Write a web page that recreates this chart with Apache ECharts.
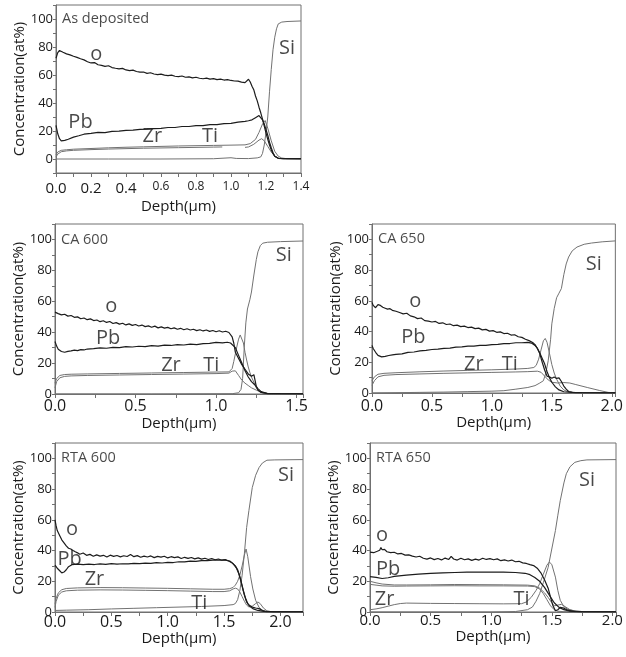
<!DOCTYPE html>
<html>
<head>
<meta charset="utf-8">
<script src="https://cdn.jsdelivr.net/npm/echarts@6/dist/echarts.min.js"></script>
<style>
html,body{margin:0;padding:0;background:#fff}
#chart{width:626px;height:657px}
</style>
</head>
<body>
<div id="chart"></div>
<script>
// Depth profiles: concentration (at%) versus sputter depth (µm)

// ---- As deposited ----
const dep_O = [[0,72],[0.01,76],[0.02,77.5],[0.04,76.2],[0.06,75.1],[0.08,74.4],[0.1,73.4],[0.12,72.6],[0.14,71.6],[0.16,70.8],[0.18,69.5],[0.2,68.6],[0.22,68.9],[0.24,67.3],[0.26,66.9],[0.28,66.2],[0.3,66.6],[0.32,65.3],[0.34,64.8],[0.36,64.4],[0.38,64.7],[0.4,63.6],[0.42,63.1],[0.44,63.5],[0.46,62.5],[0.48,62.0],[0.5,62.1],[0.52,61.2],[0.54,61.6],[0.56,60.7],[0.58,60.3],[0.6,60.6],[0.62,59.9],[0.64,59.6],[0.66,59.9],[0.68,59.1],[0.7,58.8],[0.72,59.3],[0.74,58.4],[0.76,58.7],[0.78,58.0],[0.8,58.4],[0.82,57.7],[0.84,57.3],[0.86,57.8],[0.88,57.1],[0.9,57.4],[0.92,56.7],[0.94,57.1],[0.96,56.4],[0.98,56.7],[1.0,56.1],[1.02,55.7],[1.04,55.6],[1.06,54.9],[1.08,54.6],[1.09,54.1],[1.1,57],[1.11,55],[1.12,52],[1.13,49.5],[1.14,45],[1.15,41.5],[1.16,37],[1.17,33],[1.18,28.5],[1.19,23.5],[1.2,18.5],[1.21,14],[1.22,10],[1.23,6.5],[1.24,4],[1.25,2],[1.26,1],[1.27,0.5],[1.3,0.3],[1.4,0.2]];
const dep_Pb = [[0,24],[0.01,18],[0.02,14.5],[0.03,13],[0.05,13.3],[0.07,14.1],[0.1,15.6],[0.13,16.6],[0.16,17.7],[0.2,18.3],[0.24,19.0],[0.28,18.9],[0.32,19.7],[0.36,19.9],[0.4,20.5],[0.44,20.6],[0.48,21.2],[0.52,21.3],[0.56,21.7],[0.6,21.9],[0.64,22.5],[0.68,22.5],[0.72,23.2],[0.76,23.2],[0.8,23.8],[0.84,23.9],[0.88,24.5],[0.92,24.6],[0.96,25.3],[1.0,25.5],[1.04,26.4],[1.08,26.9],[1.1,27.3],[1.12,28],[1.14,29.5],[1.16,31],[1.17,30.5],[1.18,28],[1.19,25],[1.2,21],[1.21,17],[1.22,12],[1.23,8],[1.24,4.5],[1.25,2],[1.27,0.5],[1.4,0.2]];
const dep_Zr = [[0,3],[0.01,5],[0.03,6.2],[0.06,6.6],[0.1,7.0],[0.2,7.5],[0.3,8.0],[0.4,8.4],[0.5,8.7],[0.6,9.0],[0.7,9.3],[0.8,9.5],[0.9,9.7],[1.0,9.9],[1.08,10.1],[1.11,11],[1.14,14],[1.16,19],[1.18,25],[1.195,27.5],[1.21,22],[1.23,13],[1.25,5.5],[1.27,2],[1.29,0.7],[1.32,0.2],[1.4,0.1]];
const dep_Ti = [[0,1.5],[0.01,3.5],[0.03,5.2],[0.06,5.8],[0.1,6.2],[0.2,6.7],[0.3,7.1],[0.4,7.4],[0.5,7.7],[0.6,7.9],[0.7,8.1],[0.8,8.3],[0.9,8.5],[0.95,8.6],[0.96,'-'],[1.08,8.3],[1.1,8.6],[1.13,10.5],[1.16,13.5],[1.175,14.5],[1.19,13],[1.21,9],[1.23,5],[1.25,2],[1.27,0.6],[1.3,0.1],[1.4,0]];
const dep_Si = [[0,0],[0.3,0],[0.6,0],[0.9,0.2],[1.0,0.9],[1.03,0.4],[1.1,0.3],[1.15,0.8],[1.17,1.5],[1.18,4],[1.19,10],[1.2,19],[1.21,30],[1.22,48],[1.23,64],[1.24,78],[1.25,87],[1.26,93],[1.27,96.5],[1.29,97.8],[1.32,98.2],[1.36,98.4],[1.4,98.6]];

// ---- CA 600 ----
const ca600_O = [[0,53],[0.02,52],[0.04,51.2],[0.06,51.6],[0.08,50.4],[0.1,50.8],[0.12,49.6],[0.14,49.9],[0.16,48.7],[0.18,49.2],[0.2,48.1],[0.22,48.6],[0.24,47.5],[0.26,47.9],[0.28,46.8],[0.3,47.4],[0.32,46.3],[0.34,46.9],[0.36,45.6],[0.38,46.2],[0.4,45.2],[0.42,45.8],[0.44,44.7],[0.46,45.4],[0.48,44.4],[0.5,45.0],[0.52,44.0],[0.54,44.6],[0.56,43.6],[0.58,44.1],[0.6,43.2],[0.62,43.9],[0.64,42.8],[0.66,43.4],[0.68,42.6],[0.7,43.1],[0.72,42.2],[0.74,42.8],[0.76,41.9],[0.78,42.5],[0.8,41.6],[0.82,42.2],[0.84,41.4],[0.86,41.9],[0.88,41.0],[0.9,41.6],[0.92,40.8],[0.94,41.4],[0.96,40.5],[0.98,41.1],[1.0,40.3],[1.02,40.9],[1.04,40.1],[1.06,40.6],[1.08,39.8],[1.09,39.5],[1.1,37],[1.11,33],[1.12,27],[1.14,23],[1.16,19],[1.18,16],[1.2,13],[1.22,11.5],[1.235,12.5],[1.25,5],[1.26,2.5],[1.28,1],[1.32,0.3],[1.4,0.2],[1.54,0.1]];
const ca600_Pb = [[0,34],[0.01,31],[0.02,29],[0.04,27.5],[0.06,27],[0.08,27.6],[0.1,27.9],[0.12,28.4],[0.14,28.1],[0.16,28.7],[0.18,28.5],[0.2,29.1],[0.24,29.3],[0.28,29.8],[0.32,29.6],[0.36,30.2],[0.4,30.0],[0.44,30.6],[0.48,30.4],[0.52,30.9],[0.56,30.7],[0.6,31.3],[0.64,31.0],[0.68,31.6],[0.72,31.4],[0.76,31.9],[0.8,31.7],[0.84,32.3],[0.88,32.0],[0.92,32.6],[0.96,32.8],[1.0,33.4],[1.04,33.1],[1.07,33.5],[1.09,33],[1.1,32.5],[1.12,30],[1.14,25],[1.16,20],[1.18,15],[1.2,11],[1.22,8],[1.24,6],[1.26,3.5],[1.28,1.5],[1.32,0.3],[1.54,0.1]];
const ca600_Zr = [[0,7],[0.01,10],[0.03,12],[0.06,12.6],[0.1,12.8],[0.2,13.0],[0.4,13.3],[0.6,13.6],[0.8,13.9],[1.0,14.2],[1.08,14.3],[1.09,14.6],[1.1,16.5],[1.11,21],[1.12,26],[1.13,31],[1.14,35.5],[1.15,38.2],[1.16,38.5],[1.17,33],[1.18,27],[1.19,22],[1.2,17.5],[1.21,14],[1.22,11],[1.24,6.5],[1.25,3.8],[1.27,1.5],[1.3,0.4],[1.4,0.1],[1.54,0.1]];
const ca600_Ti = [[0,4],[0.01,8],[0.03,10.5],[0.06,11.4],[0.1,11.7],[0.2,12.0],[0.4,12.3],[0.6,12.6],[0.8,12.9],[1.0,13.2],[1.08,13.5],[1.1,14.8],[1.12,15],[1.14,12],[1.16,9],[1.18,7],[1.2,5.5],[1.22,4],[1.25,2.5],[1.28,1.2],[1.32,0.3],[1.54,0.1]];
const ca600_Si = [[0,0],[0.6,0],[1.1,0.2],[1.14,0.8],[1.155,3],[1.165,10],[1.175,30],[1.185,46],[1.195,55],[1.21,61],[1.22,66],[1.235,77],[1.25,87],[1.26,92],[1.275,96],[1.29,97.6],[1.32,98.2],[1.4,98.6],[1.54,99]];

// ---- CA 650 ----
const ca650_O = [[0,59],[0.01,57],[0.03,55.5],[0.05,57.5],[0.07,57],[0.09,55.8],[0.11,55.2],[0.13,54.6],[0.15,54.9],[0.17,53.8],[0.2,53.2],[0.23,52.4],[0.26,51.5],[0.29,51.9],[0.32,50.2],[0.35,49.6],[0.38,48.4],[0.41,48.8],[0.44,47.1],[0.47,46.8],[0.5,46.2],[0.53,46.6],[0.56,45.3],[0.59,45.7],[0.62,44.6],[0.65,44.9],[0.68,43.8],[0.71,44.2],[0.74,43.2],[0.77,43.5],[0.8,42.6],[0.83,42.9],[0.86,41.9],[0.89,42.2],[0.92,41.1],[0.95,41.4],[0.98,40.3],[1.01,40.6],[1.04,39.5],[1.07,39.8],[1.1,38.7],[1.13,38.9],[1.16,37.7],[1.19,37.9],[1.22,36.6],[1.25,36.2],[1.28,35.0],[1.31,34.1],[1.34,32.9],[1.36,31.5],[1.38,29],[1.4,25.5],[1.42,20],[1.44,15],[1.46,11],[1.48,10.5],[1.5,9.6],[1.52,10.4],[1.54,9.5],[1.56,9.8],[1.58,7.5],[1.6,4.5],[1.62,2.5],[1.64,1],[1.67,0.4],[1.75,0.2],[2.03,0.1]];
const ca650_Pb = [[0,31],[0.01,29],[0.03,26.5],[0.05,24.5],[0.08,23.5],[0.11,23.8],[0.14,24.4],[0.17,24.8],[0.2,25.2],[0.25,25.5],[0.3,26.4],[0.35,26.7],[0.4,27.4],[0.45,27.8],[0.5,28.3],[0.55,28.5],[0.6,29.1],[0.65,29.2],[0.7,29.9],[0.75,30.0],[0.8,30.5],[0.85,30.5],[0.9,31.0],[0.95,31.0],[1.0,31.5],[1.05,31.6],[1.1,32.1],[1.15,32.2],[1.2,32.7],[1.25,32.7],[1.3,32.9],[1.33,32.5],[1.36,31],[1.38,29],[1.4,26],[1.42,22.5],[1.44,19],[1.46,14],[1.48,10],[1.5,7],[1.53,4],[1.56,2],[1.6,0.8],[1.7,0.2],[2.03,0.1]];
const ca650_Zr = [[0,8],[0.02,10.5],[0.05,12.2],[0.1,12.8],[0.2,13.2],[0.4,13.8],[0.6,14.3],[0.8,14.7],[1.0,15.1],[1.2,15.6],[1.3,16.0],[1.35,16.6],[1.37,18],[1.39,22],[1.41,28],[1.43,34],[1.445,35.5],[1.46,33],[1.48,26],[1.5,18.5],[1.52,13],[1.54,9],[1.57,4.5],[1.6,2],[1.64,0.6],[1.7,0.2],[2.03,0.1]];
const ca650_Ti = [[0,5],[0.02,8],[0.05,10.5],[0.1,11.5],[0.2,12],[0.4,12.4],[0.6,12.8],[0.8,13.1],[1.0,13.4],[1.2,13.7],[1.3,13.9],[1.38,14.2],[1.41,13.5],[1.44,11],[1.47,8.5],[1.5,7],[1.55,6.5],[1.6,6.8],[1.65,6.5],[1.7,5.5],[1.8,3.5],[1.9,1.6],[1.97,0.4],[2.03,0.1]];
const ca650_Si = [[0,0],[0.2,0.2],[0.4,0.4],[0.6,0.6],[0.8,0.9],[1.0,1.2],[1.1,1.5],[1.2,2.5],[1.3,3.6],[1.36,4.8],[1.4,6.5],[1.43,8],[1.45,13],[1.47,21],[1.49,35],[1.5,45],[1.52,55],[1.54,62],[1.56,65],[1.58,68],[1.6,77],[1.62,84],[1.64,88.5],[1.67,92.5],[1.71,95],[1.77,96.8],[1.83,97.6],[1.92,98.4],[2.03,99]];

// ---- RTA 600 ----
const rta600_O = [[0,60],[0.01,56],[0.02,53],[0.04,50],[0.06,47],[0.08,45],[0.1,43],[0.12,41.5],[0.14,41],[0.16,40],[0.18,39.2],[0.2,38.5],[0.22,37.6],[0.25,38.4],[0.28,36.9],[0.31,37.5],[0.34,36.3],[0.37,37.2],[0.4,36.4],[0.43,36.9],[0.46,35.8],[0.49,37.0],[0.52,36.2],[0.55,36.8],[0.58,35.9],[0.61,36.6],[0.64,36.1],[0.67,37.4],[0.7,36.0],[0.73,36.7],[0.76,35.6],[0.79,36.4],[0.82,35.8],[0.85,36.5],[0.88,35.4],[0.91,36.2],[0.94,35.7],[0.97,36.3],[1.0,35.2],[1.03,36.0],[1.06,35.4],[1.09,35.9],[1.12,34.8],[1.15,35.6],[1.18,34.9],[1.21,35.5],[1.24,34.6],[1.27,35.2],[1.3,34.4],[1.33,35.0],[1.36,34.2],[1.39,34.8],[1.42,34.0],[1.45,34.5],[1.48,33.7],[1.51,34.1],[1.54,33.2],[1.57,32],[1.6,30],[1.62,27.5],[1.64,23],[1.66,17],[1.68,11],[1.7,6.5],[1.72,4.5],[1.75,3.2],[1.78,2.6],[1.81,2.2],[1.84,1],[1.87,0.3],[1.95,0.1],[2.2,0.1]];
const rta600_Pb = [[0,30.5],[0.02,28.5],[0.04,27],[0.06,25.5],[0.08,26],[0.1,27.5],[0.12,29.5],[0.15,30.8],[0.2,31.2],[0.25,30.8],[0.3,31.1],[0.35,30.9],[0.4,31.3],[0.45,31.0],[0.5,31.5],[0.55,31.2],[0.6,31.4],[0.65,31.3],[0.7,31.7],[0.75,31.5],[0.8,31.8],[0.85,31.7],[0.9,32.1],[0.95,31.9],[1.0,32.3],[1.05,32.2],[1.1,32.7],[1.15,32.6],[1.2,33.1],[1.25,33.0],[1.3,33.5],[1.35,33.4],[1.4,33.8],[1.45,33.7],[1.5,33.9],[1.55,33.2],[1.58,31.5],[1.61,28.5],[1.63,25],[1.65,20],[1.67,14],[1.69,9],[1.71,5.5],[1.73,3.5],[1.76,2],[1.8,1],[1.85,0.4],[1.95,0.1],[2.2,0.1]];
const rta600_Zr = [[0,5],[0.01,9],[0.03,12.5],[0.06,14.5],[0.1,15.3],[0.2,15.7],[0.4,15.9],[0.6,15.8],[0.8,15.6],[1.0,15.4],[1.2,15.1],[1.4,14.8],[1.5,14.8],[1.55,15.2],[1.58,16],[1.6,17.5],[1.62,20],[1.64,24],[1.66,30],[1.68,37],[1.695,41],[1.71,36],[1.735,23],[1.755,15],[1.78,7.6],[1.81,3],[1.84,1.2],[1.88,0.3],[2.0,0.1],[2.2,0.1]];
const rta600_Ti = [[0,3],[0.01,7],[0.03,11],[0.06,13],[0.1,13.8],[0.2,14.2],[0.4,14.4],[0.6,14.3],[0.8,14.1],[1.0,13.9],[1.2,13.6],[1.4,13.3],[1.5,13.3],[1.55,13.8],[1.58,15],[1.6,15.5],[1.62,15],[1.64,13],[1.66,10],[1.68,7],[1.7,4.5],[1.72,3.3],[1.75,3.8],[1.78,5.5],[1.8,6.5],[1.82,5.5],[1.85,2.5],[1.88,0.8],[1.92,0.2],[2.2,0.1]];
const rta600_Si = [[0,1],[0.1,1.2],[0.3,1.5],[0.5,2],[0.7,2.4],[0.9,2.8],[1.1,3.2],[1.3,3.6],[1.5,4.2],[1.58,4.8],[1.6,5.5],[1.62,8],[1.64,14],[1.66,24],[1.68,38],[1.7,55],[1.72,66],[1.75,81],[1.78,89],[1.81,94],[1.84,97],[1.88,98.8],[1.95,99],[2.2,99.2]];

// ---- RTA 650 ----
const rta650_O = [[0,39],[0.03,38.6],[0.06,39.5],[0.08,40.2],[0.09,42],[0.1,40.5],[0.12,40.8],[0.14,39.2],[0.17,38.6],[0.2,38.9],[0.23,37.8],[0.26,38.1],[0.29,37.0],[0.32,37.2],[0.35,36.4],[0.38,35.8],[0.41,36.3],[0.44,35.0],[0.47,34.4],[0.5,35.2],[0.53,34.1],[0.56,34.8],[0.59,33.9],[0.62,35.1],[0.65,34.2],[0.67,36.2],[0.69,34.5],[0.72,33.8],[0.75,35.0],[0.78,34.0],[0.81,34.6],[0.84,33.6],[0.87,34.4],[0.9,33.8],[0.93,35.0],[0.96,34.2],[0.99,34.7],[1.02,34.0],[1.05,34.6],[1.08,33.4],[1.11,33.9],[1.14,33.2],[1.17,33.8],[1.2,32.7],[1.23,33.0],[1.26,32.0],[1.29,31.6],[1.32,30.8],[1.35,30.2],[1.38,28.5],[1.41,25.5],[1.44,21],[1.47,15.5],[1.49,9.5],[1.51,4],[1.53,0.8],[1.55,1.5],[1.57,3],[1.6,2.5],[1.63,1.2],[1.68,0.4],[1.75,0.1],[2.03,0.1]];
const rta650_Pb = [[0,23],[0.05,22.5],[0.1,21.8],[0.15,22.3],[0.2,23.2],[0.3,24],[0.4,24.6],[0.5,25.1],[0.6,25.5],[0.7,25.7],[0.8,25.9],[0.9,26.0],[1.0,26.0],[1.1,25.9],[1.2,25.7],[1.28,25.2],[1.32,24.3],[1.36,22.5],[1.4,20],[1.44,16],[1.48,11],[1.52,6],[1.56,3],[1.6,1.5],[1.65,0.6],[1.75,0.2],[2.03,0.1]];
const rta650_Zr = [[0,20],[0.05,19],[0.1,18.2],[0.2,17.6],[0.3,17.6],[0.5,17.7],[0.7,17.9],[0.9,17.8],[1.1,17.7],[1.3,17.5],[1.36,17],[1.4,15.5],[1.44,12.5],[1.47,9.5],[1.5,6],[1.52,4],[1.55,4.5],[1.58,5],[1.61,3.5],[1.65,1.5],[1.7,0.5],[1.8,0.1],[2.03,0.1]];
const rta650_Ti = [[0,18],[0.05,17.5],[0.1,17],[0.2,16.8],[0.3,16.9],[0.5,17.0],[0.7,17.1],[0.9,17.0],[1.1,17.0],[1.3,16.9],[1.36,16.5],[1.4,15],[1.43,12],[1.46,8],[1.49,4],[1.52,1.5],[1.55,0.5],[1.6,0.2],[2.03,0.1]];
const rta650_trace = [[0,1.5],[0.05,2],[0.1,2.8],[0.15,3.8],[0.2,4.8],[0.25,5.5],[0.3,5.8],[0.5,5.6],[0.7,5.5],[0.9,5.4],[1.1,5.3],[1.25,5.4],[1.29,6.5],[1.33,9.5],[1.37,14],[1.4,18.4],[1.43,24.5],[1.46,30.5],[1.48,32.5],[1.5,31],[1.53,22.7],[1.55,14],[1.57,7.6],[1.6,3.5],[1.63,1.8],[1.7,0.4],[1.8,0.1],[2.03,0.1]];
const rta650_Si = [[0,0],[1.0,0],[1.2,0.3],[1.3,1.5],[1.34,3.2],[1.37,7],[1.4,12],[1.43,19],[1.47,29],[1.5,41],[1.53,53],[1.55,63],[1.57,72.5],[1.6,84],[1.62,90],[1.65,94.5],[1.69,97.4],[1.74,98.5],[1.79,99],[2.03,99.2]];

// Element labels inside each panel: [depth, concentration, text]
const dep_labels = [[0.23,75,'o'],[0.14,26,'Pb'],[0.55,16,'Zr'],[0.88,16,'Ti'],[1.32,79,'Si']];
const ca600_labels = [[0.35,57,'o'],[0.33,36,'Pb'],[0.72,18.5,'Zr'],[0.97,18.5,'Ti'],[1.42,90,'Si']];
const ca650_labels = [[0.36,60,'o'],[0.345,36.5,'Pb'],[0.85,19,'Zr'],[1.15,19,'Ti'],[1.85,84,'Si']];
const rta600_labels = [[0.15,54,'o'],[0.13,34.5,'Pb'],[0.35,21,'Zr'],[1.28,5.5,'Ti'],[2.05,89,'Si']];
const rta650_labels = [[0.1,50,'o'],[0.15,28,'Pb'],[0.12,8.5,'Zr'],[1.25,8.5,'Ti'],[1.79,85.5,'Si']];

const panelTitles = ['As deposited','CA 600','CA 650','RTA 600','RTA 650'];

// x axis extents and tick spacing per panel
const xMaxes = [1.4, 1.54, 2.03, 2.2, 2.03];
const xTickSteps = [0.1, 0.25, 0.25, 0.25, 0.25];
const xLabelSteps = [0.2, 0.5, 0.5, 0.5, 0.5];
const yMins = [-10, 0, 0, 0, 0];
const yMax = 110;

const FONT = 'Open Sans';
const TEXT = '#1a1a1a';
const AXIS = '#707070';
const DARK = '#1c1c1c';
const GREY = '#727272';

const layouts = [
  {grid:{left:56, top:5, width:245, height:168}, labelMargin:8, labelSize:15, nameGap:26, yNameGap:24},
  {grid:{left:55, top:224, width:248, height:170}, labelMargin:4, labelSize:16, nameGap:22, yNameGap:23},
  {grid:{left:372, top:224, width:250, height:169}, labelMargin:5, labelSize:16, nameGap:22, yNameGap:22},
  {grid:{left:55, top:443, width:248, height:169}, labelMargin:2, labelSize:16, nameGap:15, yNameGap:25},
  {grid:{left:370, top:443, width:246, height:169}, labelMargin:1, labelSize:15, nameGap:16, yNameGap:24}
];

const panelSeries = [
  [[dep_O,DARK],[dep_Pb,DARK],[dep_Zr,GREY],[dep_Ti,GREY],[dep_Si,GREY]],
  [[ca600_O,DARK],[ca600_Pb,DARK],[ca600_Zr,GREY],[ca600_Ti,GREY],[ca600_Si,GREY]],
  [[ca650_O,DARK],[ca650_Pb,DARK],[ca650_Zr,GREY],[ca650_Ti,GREY],[ca650_Si,GREY]],
  [[rta600_O,DARK],[rta600_Pb,DARK],[rta600_Zr,GREY],[rta600_Ti,GREY],[rta600_Si,GREY]],
  [[rta650_O,DARK],[rta650_Pb,DARK],[rta650_Zr,GREY],[rta650_Ti,GREY],[rta650_trace,GREY],[rta650_Si,GREY]]
];
const panelLabels = [dep_labels, ca600_labels, ca650_labels, rta600_labels, rta650_labels];
const elementNames = ['O','Pb','Zr','Ti','X','Si'];

function onStep(v, step) {
  const k = v / step;
  return Math.abs(k - Math.round(k)) < 1e-6;
}

const grids = [], xAxes = [], yAxes = [], series = [];

layouts.forEach((L, i) => {
  grids.push(Object.assign({show:true, borderColor:AXIS, borderWidth:1, backgroundColor:'transparent'}, L.grid));
  const labelStep = xLabelSteps[i];
  xAxes.push({
    type:'value', gridIndex:i, min:0, max:xMaxes[i], interval:xTickSteps[i],
    name:'Depth(μm)', nameLocation:'middle', nameGap:L.nameGap,
    nameTextStyle:{fontFamily:FONT, fontSize:15, color:TEXT},
    axisLine:{show:true, onZero:false, lineStyle:{color:AXIS, width:1}},
    axisTick:{show:true, length:4, lineStyle:{color:AXIS}},
    splitLine:{show:false},
    axisLabel:{
      margin:L.labelMargin, fontFamily:FONT, fontSize:L.labelSize, color:TEXT,
      showMaxLabel:true,
      formatter: i === 0
        ? (v) => onStep(v, labelStep) ? (v <= 0.41 ? '{b|' + v.toFixed(1) + '}' : '{s|' + v.toFixed(1) + '}') : ''
        : (v) => onStep(v, labelStep) ? v.toFixed(1) : '',
      rich: i === 0 ? {b:{fontFamily:FONT, fontSize:15, color:TEXT}, s:{fontFamily:FONT, fontSize:12, color:TEXT}} : undefined
    }
  });
  yAxes.push({
    type:'value', gridIndex:i, min:yMins[i], max:yMax, interval:10,
    name:'Concentration(at%)', nameLocation:'middle', nameGap:L.yNameGap,
    nameTextStyle:{fontFamily:FONT, fontSize:15, color:TEXT},
    axisLine:{show:true, onZero:false, lineStyle:{color:AXIS, width:1}},
    axisTick:{show:true, length:3, lineStyle:{color:AXIS}},
    splitLine:{show:false},
    axisLabel:{
      margin:3, fontFamily:FONT, fontSize:13, color:TEXT,
      formatter:(v) => (onStep(v, 20) && v >= 0 && v <= 100) ? String(Math.round(v)) : ''
    }
  });

  panelSeries[i].forEach((pair, j) => {
    const names = i === 4 ? elementNames : ['O','Pb','Zr','Ti','Si'];
    series.push({
      type:'line', name:names[j], xAxisIndex:i, yAxisIndex:i,
      data:pair[0], showSymbol:false, symbol:'none', connectNulls:false,
      lineStyle:{color:pair[1], width:pair[1] === DARK ? 1.2 : 1}, z:pair[1] === DARK ? 3 : 2,
      silent:true
    });
  });

  // element labels
  series.push({
    type:'scatter', xAxisIndex:i, yAxisIndex:i, symbolSize:0, silent:true, z:5,
    data: panelLabels[i].map(d => ({value:[d[0], d[1]], name:d[2]})),
    label:{show:true, position:'inside', formatter:(p) => p.name,
      fontFamily:FONT, fontSize:20, color:TEXT}
  });
  // panel title, anchored to the top-left corner of the plot
  series.push({
    type:'scatter', xAxisIndex:i, yAxisIndex:i, symbolSize:0, silent:true, z:5,
    data:[{value:[0, 100], name:panelTitles[i]}],
    label:{show:true, position:'inside', align:'left', offset:[6,0], formatter:(p) => p.name,
      fontFamily:FONT, fontSize:14.5, color:TEXT}
  });
});

const chart = echarts.init(document.getElementById('chart'), null, {renderer:'canvas'});
chart.setOption({
  animation:false,
  backgroundColor:'#fff',
  grid:grids, xAxis:xAxes, yAxis:yAxes, series:series
});
</script>
</body>
</html>
